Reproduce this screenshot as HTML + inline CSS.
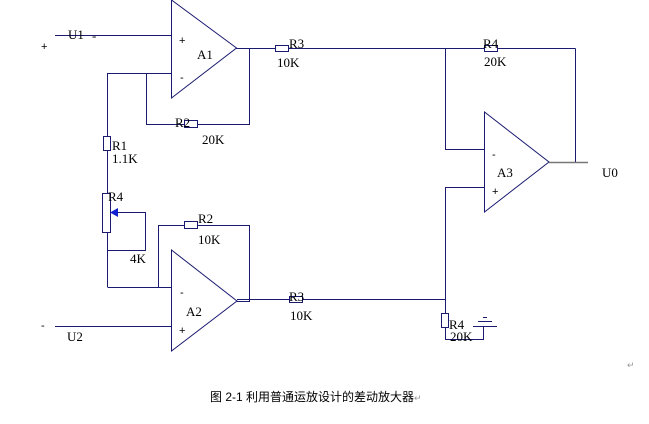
<!DOCTYPE html>
<html><head><meta charset="utf-8"><style>
html,body{margin:0;padding:0;background:#fff;width:649px;height:424px;overflow:hidden}
svg{display:block}
text{font-family:"Liberation Serif","Noto Serif CJK SC",serif;font-size:13px;fill:#000}
.s{font-family:"Liberation Sans",sans-serif;font-size:11px}
</style></head><body>
<svg width="649" height="424" viewBox="0 0 649 424" xmlns="http://www.w3.org/2000/svg">
<g stroke="#1a1a70" stroke-width="1" fill="none">
<!-- A1 -->
<polygon points="171.5,0 171.5,98 236.5,48"/>
<line x1="55" y1="35.5" x2="171" y2="35.5"/>
<polyline points="107.5,287 107.5,73.5 171,73.5"/>
<polyline points="146.5,73.5 146.5,124.5 249.5,124.5 249.5,48.5 236,48.5"/>
<rect x="184.5" y="120.5" width="13" height="7" fill="#fff"/>
<line x1="236" y1="48.5" x2="575.5" y2="48.5"/>
<rect x="275.5" y="45.5" width="13" height="6" fill="#fff"/>
<rect x="484.5" y="45.5" width="13" height="6" fill="#fff"/>
<!-- A3 -->
<polygon points="484.5,112 484.5,212 549,162"/>
<polyline points="445.5,48.5 445.5,149.5 484,149.5"/>
<polyline points="484,187.5 445.5,187.5 445.5,313"/>
<line x1="575.5" y1="48.5" x2="575.5" y2="162"/>
<rect x="441.5" y="313.5" width="7" height="14" fill="#fff"/>
<polyline points="445.5,327 445.5,339.5 483.5,339.5 483.5,326"/>
<line x1="473" y1="326.5" x2="497" y2="326.5"/>
<line x1="478" y1="321.5" x2="492" y2="321.5"/>
<line x1="483" y1="317.5" x2="487" y2="317.5"/>
<!-- left chain -->
<rect x="103.5" y="136.5" width="7" height="14" fill="#fff"/>
<rect x="102.5" y="193.5" width="8" height="39" fill="#fff"/>
<polyline points="118,212.5 145.5,212.5 145.5,250.5 107.5,250.5"/>
<line x1="107.5" y1="287.5" x2="171" y2="287.5"/>
<!-- A2 -->
<polygon points="171.5,250 171.5,351 237,301"/>
<polyline points="158.5,287.5 158.5,225.5 249.5,225.5 249.5,301.5 237,301.5"/>
<rect x="184.5" y="221.5" width="13" height="7" fill="#fff"/>
<line x1="237" y1="299.5" x2="445.5" y2="299.5"/>
<rect x="289.5" y="296.5" width="13" height="6" fill="#fff"/>
<line x1="55" y1="326.5" x2="171" y2="326.5"/>
</g>
<polygon points="110,212.5 118,208 118,217" fill="#1020d0"/>
<line x1="549" y1="162.5" x2="588" y2="162.5" stroke="#777" stroke-width="1.5"/>
<text x="68" y="39">U1</text><text x="92" y="40">-</text>
<text class="s" x="41" y="50">+</text>
<text class="s" x="179" y="44">+</text><text class="s" x="180" y="81">-</text>
<text x="197" y="59">A1</text>
<text x="175" y="127">R2</text><text x="202" y="144">20K</text>
<text x="289" y="48">R3</text><text x="277" y="67">10K</text>
<text x="483" y="48">R4</text><text x="484" y="66">20K</text>
<text class="s" x="492" y="158">-</text><text x="497" y="177">A3</text><text class="s" x="492" y="195">+</text>
<text x="602" y="177">U0</text>
<text x="112" y="150">R1</text><text x="112" y="163">1.1K</text>
<text x="108" y="201">R4</text><text x="130" y="263">4K</text>
<text x="198" y="223">R2</text><text x="198" y="244">10K</text>
<text class="s" x="180" y="296">-</text><text x="186" y="316">A2</text><text class="s" x="179" y="334">+</text>
<text x="289" y="301">R3</text><text x="290" y="320">10K</text>
<text class="s" x="41" y="329">-</text><text x="67" y="341">U2</text>
<text x="449" y="329">R4</text><text x="450" y="341">20K</text>
<text x="210" y="401" style="font-family:'Liberation Sans','Noto Sans CJK SC',sans-serif;font-size:12px">图 2-1 利用普通运放设计的差动放大器<tspan fill="#999" font-size="9">↵</tspan></text>
<text x="627" y="368" style="font-size:9px;fill:#999">↵</text>
</g>
</svg>
</body></html>
